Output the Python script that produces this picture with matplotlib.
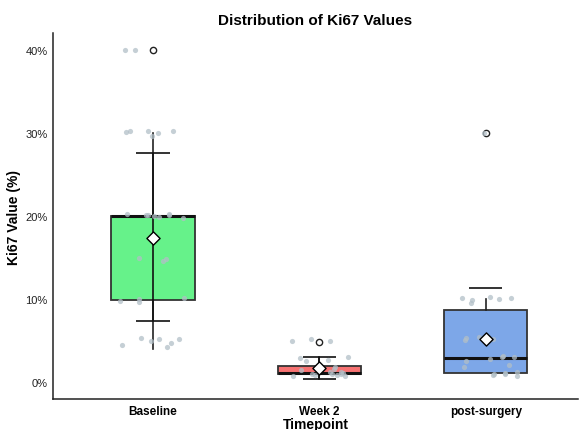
import numpy as np
import matplotlib
matplotlib.use("Agg")
import matplotlib.pyplot as plt
from matplotlib.ticker import FuncFormatter

plt.rcParams["font.family"] = ["Liberation Sans", "DejaVu Sans"]

groups = ["Baseline", "Week 2", "post-surgery"]
colors = ["#66F28A", "#F77272", "#7DA7E8"]

# box summary (percent)
q1 = [9.9, 0.95, 1.17]
med = [20.0, 1.1, 2.9]
q3 = [20.0, 1.96, 8.67]
whis_lo = [4.0, 0.36, 1.17]
whis_hi = [30.0, 3.1, 10.0]
outliers = [[40.0], [4.9], [30.0]]
means = [17.4, 1.73, 5.26]
cap_lo = [7.4, 0.36, np.nan]
cap_hi = [27.6, 3.1, 11.4]

# raw observations (jittered dots)
baseline_vals = [40, 40, 30.2, 30.0, 30.1, 30.3, 29.7, 30.2, 20.2, 20.3, 20.1, 20.0,
                 20.2, 19.9, 20.3, 19.8, 15.0, 14.6, 14.8, 10.0, 9.8, 10.1, 9.7,
                 5.3, 5.2, 5.2, 5.0, 4.7, 4.5, 4.2]
week2_vals = [5.2, 5.0, 5.0, 3.1, 2.9, 2.7, 2.6, 1.9, 1.6, 1.5, 1.3, 1.2, 1.0, 1.0,
              0.9, 0.9, 0.8, 0.8, 1.1, 1.0]
post_vals = [30.0, 10.2, 10.0, 9.9, 10.1, 9.6, 10.3, 5.4, 5.2, 5.3, 5.1, 3.0, 3.2,
             2.8, 3.0, 2.6, 2.1, 1.9, 1.2, 1.0, 0.9, 0.8, 1.1, 1.0]
raw = [baseline_vals, week2_vals, post_vals]

fig = plt.figure(figsize=(5.8, 4.31), dpi=100)
ax = fig.add_axes([0.0914, 0.072, 0.905, 0.848])

pos = np.arange(1, len(groups) + 1)
stats = [dict(q1=q1[i], med=med[i], q3=q3[i], whislo=whis_lo[i], whishi=whis_hi[i],
              fliers=outliers[i]) for i in range(len(groups))]
bp = ax.bxp(stats, positions=pos, widths=0.5, patch_artist=True, showcaps=False,
            boxprops=dict(edgecolor="#333333", linewidth=1.3),
            whiskerprops=dict(color="#222222", linewidth=1.2),
            medianprops=dict(color="#111111", linewidth=2.2),
            flierprops=dict(marker="o", markerfacecolor="white", markeredgecolor="#222222",
                            markersize=4.5, markeredgewidth=1.0))
for patch, c in zip(bp["boxes"], colors):
    patch.set_facecolor(c)

# mean +/- SD error bars
for i, x in enumerate(pos):
    if np.isfinite(cap_lo[i]):
        ax.vlines(x, cap_lo[i], cap_hi[i], color="#111111", lw=1.2, zorder=4)
        ax.hlines(cap_lo[i], x - 0.1, x + 0.1, color="#111111", lw=1.2, zorder=4)
    ax.hlines(cap_hi[i], x - 0.1, x + 0.1, color="#111111", lw=1.2, zorder=4)

rng = np.random.default_rng(3)
for i, vals in enumerate(raw):
    xj = pos[i] + rng.uniform(-0.2, 0.2, len(vals))
    ax.scatter(xj, vals, s=14, color="#B2BFC7", alpha=0.75, lw=0, zorder=5)

ax.scatter(pos, means, marker="D", s=45, facecolor="white", edgecolor="black",
           linewidth=1.0, zorder=6)

ax.set_xlim(0.4, 3.553)
ax.set_ylim(-2, 42)
ax.set_yticks([0, 10, 20, 30, 40])
ax.yaxis.set_major_formatter(FuncFormatter(lambda v, _: f"{v:.0f}%"))
ax.set_xticks(pos)
ax.set_xticklabels(groups, fontweight="bold", fontsize=8.5)
ax.tick_params(axis="x", length=0, pad=4)
ax.tick_params(axis="y", length=0, labelsize=8, pad=4)
for t in ax.get_yticklabels():
    t.set_color("#222222")
for s in ["top", "right"]:
    ax.spines[s].set_visible(False)
for s in ["left", "bottom"]:
    ax.spines[s].set_color("#222222")
    ax.spines[s].set_linewidth(1.1)

ax.set_xlabel("Timepoint", fontweight="bold", fontsize=10, labelpad=0)
ax.set_ylabel("Ki67 Value (%)", fontweight="bold", fontsize=10, labelpad=3)
ax.set_title("Distribution of Ki67 Values", fontweight="bold", fontsize=11, pad=7)

fig.savefig("out.png", dpi=100)
